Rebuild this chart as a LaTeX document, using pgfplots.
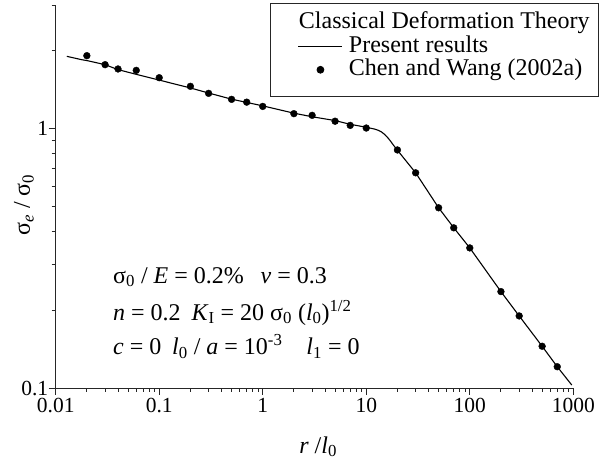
\documentclass[border=0pt]{standalone}
\usepackage{fontspec}
\setmainfont{Liberation Serif}
\usepackage{pgfplots}
\pgfplotsset{compat=1.18}
\newcommand{\sub}[1]{\textsubscript{#1}}
\newcommand{\sps}[1]{\textsuperscript{#1}}
\pgfplotstableread{
x y
0.0128 1.902
0.0178 1.846
0.02 1.832
0.03 1.766
0.04 1.690
0.06 1.621
0.1 1.540
0.2 1.436
0.3 1.373
0.5 1.300
1 1.225
2 1.148
3 1.112
5 1.075
7 1.040
10 1.013
12 0.997
13 0.987
14 0.972
15 0.952
16 0.927
17 0.900
18 0.872
20 0.826
30 0.676
50 0.4955
70 0.415
100 0.347
200 0.2354
300 0.1897
500 0.1449
700 0.1208
966 0.1027
}\present
\pgfplotstableread{
x y
0.02 1.913
0.03 1.766
0.04 1.700
0.06 1.679
0.1 1.573
0.2 1.457
0.3 1.369
0.5 1.298
0.7 1.266
1 1.219
2 1.143
3 1.126
5 1.069
7 1.030
10 1.006
20 0.828
30 0.676
50 0.4955
70 0.4148
100 0.347
200 0.2354
300 0.1897
500 0.1449
700 0.1208
}\chenwang
\begin{document}
\begin{tikzpicture}
\begin{axis}[
  name=ax,
  scale only axis, width=517.6bp, height=383bp,
  xmode=log, ymode=log,
  xmin=0.01, xmax=1000, ymin=0.1, ymax=3,
  axis x line*=bottom, axis y line*=left,
  axis line style={line width=1bp, black!85},
  tick align=outside,
  major tick length=7bp, minor tick length=4bp,
  every tick/.style={line width=0.9bp, black!85},
  xtick={0.01,0.1,1,10,100,1000},
  xticklabels={\textrm{0.01},\textrm{0.1},\textrm{1},\textrm{10},\textrm{100},\textrm{1000}},
  minor xtick={0.02,0.03,0.04,0.05,0.06,0.07,0.08,0.09,0.2,0.3,0.4,0.5,0.6,0.7,0.8,0.9,2,3,4,5,6,7,8,9,20,30,40,50,60,70,80,90,200,300,400,500,600,700,800,900},
  ytick={0.1,1}, yticklabels={\textrm{0.1},\textrm{1}},
  minor ytick={0.2,0.3,0.4,0.5,0.6,0.7,0.8,0.9,2,3},
  ticklabel style={font=\fontsize{21.5bp}{24bp}\selectfont},
  yticklabel style={xshift=3bp},
  xlabel={\textit{r} /\textit{l}\sub{0}},
  ylabel={σ\sub{\textit{e}} / σ\sub{0}},
  label style={font=\fontsize{24bp}{28bp}\selectfont},
  xlabel style={at={(axis description cs:0.507,-0.17)}, anchor=base},
  ylabel style={at={(axis description cs:-0.0612,0.478)}, anchor=center},
  legend cell align=left,
  legend style={at={(axis description cs:0.414,1.005)}, anchor=north west,
    draw=black!85, line width=0.9bp, inner xsep=9bp, inner ysep=11bp,
    font=\fontsize{24bp}{28bp}\selectfont, row sep=0pt, column sep=6bp,
    nodes={inner sep=0pt, text height=14bp, text depth=9.5bp}},
  legend image code/.code={\path[draw=none] (-19bp,3.5bp) -- (0bp,3.5bp);
    \draw[mark repeat=2,mark phase=2] plot coordinates {(0bp,3.5bp) (22bp,3.5bp) (44bp,3.5bp)};},
]
\addlegendimage{empty legend}
\addlegendentry{\hspace*{-50bp}Classical Deformation Theory}
\addplot[black, line width=1.1bp, no marks] table {\present};
\addlegendentry{Present results}
\addplot[black, only marks, mark=*, mark size=3.4bp] table {\chenwang};
\addlegendentry{Chen and Wang (2002a)}
\node[anchor=base west, font=\fontsize{24bp}{28bp}\selectfont, inner sep=0pt] at (axis description cs:0.1107,0.274) {σ\sub{0} / \textit{E} = 0.2\%\hspace{0.7em}\textit{ν} = 0.3};
\node[anchor=base west, font=\fontsize{24bp}{28bp}\selectfont, inner sep=0pt] at (axis description cs:0.1107,0.1775) {\textit{n} = 0.2\hspace{0.45em}\textit{K}\sub{I} = 20 σ\sub{0} (\textit{l}\sub{0})\sps{1/2}};
\node[anchor=base west, font=\fontsize{24bp}{28bp}\selectfont, inner sep=0pt] at (axis description cs:0.1107,0.0862) {\textit{c} = 0\hspace{0.45em}\textit{l}\sub{0} / \textit{a} = 10\sps{-3}\hspace{1em}\textit{l}\sub{1} = 0};
\end{axis}
\pgfresetboundingbox
\path ([shift={(-55.7bp,-74bp)}]ax.south west) rectangle ([shift={(543.3bp,388bp)}]ax.south west);
\end{tikzpicture}
\end{document}
